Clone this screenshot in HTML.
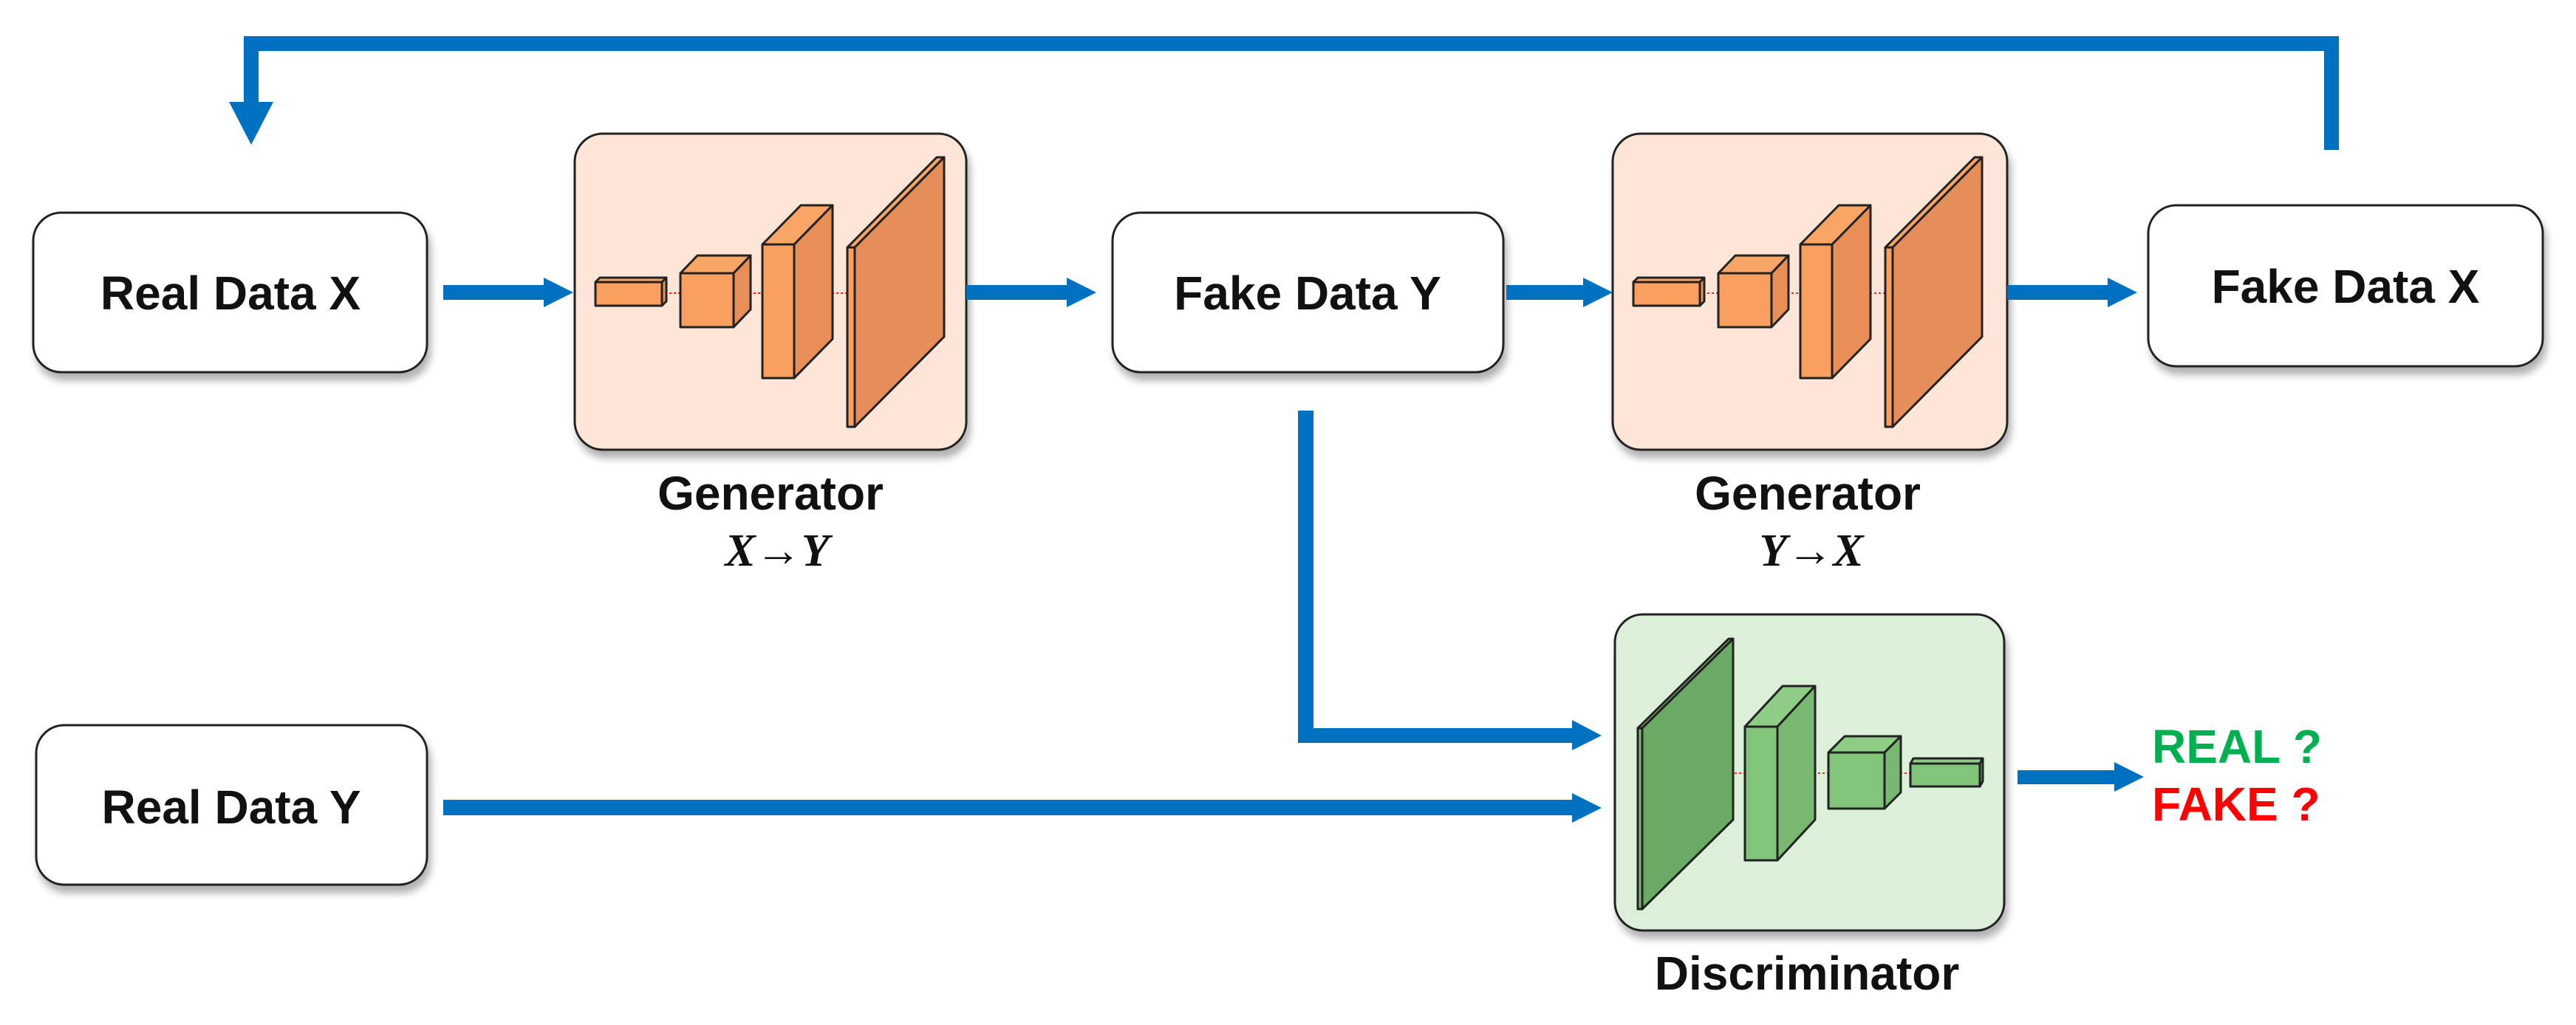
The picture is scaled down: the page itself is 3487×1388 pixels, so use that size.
<!DOCTYPE html>
<html><head><meta charset="utf-8"><style>
html,body{margin:0;padding:0;background:#fff;}
svg{display:block;}
text{font-family:"Liberation Sans",sans-serif;font-weight:bold;}
</style></head><body>
<svg width="3487" height="1388" viewBox="0 0 3487 1388" xmlns="http://www.w3.org/2000/svg">
<defs>
<filter id="sh" x="-10%" y="-10%" width="130%" height="130%">
<feDropShadow dx="4" dy="10" stdDeviation="5" flood-color="#000" flood-opacity="0.3"/>
</filter>
</defs>

<path d="M3156 203 V59 H340 V140" fill="none" stroke="#0070c0" stroke-width="20"/>
<polygon points="310,138 370,138 340,196" fill="#0070c0"/>

<g fill="#fff" stroke="#222" stroke-width="3" filter="url(#sh)">
<rect x="45" y="288" width="533" height="216" rx="38"/>
<rect x="1506" y="288" width="529" height="216" rx="38"/>
<rect x="2908" y="278" width="534" height="218" rx="38"/>
<rect x="49" y="982" width="529" height="216" rx="38"/>
<rect x="778" y="181" width="530" height="428" rx="38" fill="#fde6d8"/>
<rect x="2183" y="181" width="534" height="428" rx="38" fill="#fde6d8"/>
<rect x="2186" y="832" width="527" height="428" rx="38" fill="#dcefd8"/>
</g>

<g font-size="64" text-anchor="middle" fill="#111">
<text x="312" y="419">Real Data X</text>
<text x="1770" y="419">Fake Data Y</text>
<text x="3175" y="410">Fake Data X</text>
<text x="313" y="1115">Real Data Y</text>
<text x="1043" y="690">Generator</text>
<text x="2447" y="690">Generator</text>
<text x="2446" y="1340">Discriminator</text>
</g>
<g font-style="italic" font-weight="bold" font-size="62" text-anchor="middle" fill="#111">
<text x="1052" y="766" style="font-family:'Liberation Serif',serif">X→Y</text>
<text x="2452" y="766" style="font-family:'Liberation Serif',serif">Y→X</text>
</g>
<text x="2913" y="1033" font-size="64" fill="#00b050">REAL ?</text>
<text x="2913" y="1111" font-size="64" fill="#ff0000">FAKE ?</text>

<g fill="#0070c0">
<rect x="600" y="386" width="140" height="20"/><polygon points="736,376 776,396 736,416"/>
<rect x="1308" y="386" width="140" height="20"/><polygon points="1444,376 1484,396 1444,416"/>
<rect x="2039" y="386" width="106" height="20"/><polygon points="2143,376 2183,396 2143,416"/>
<rect x="2717" y="386" width="140" height="20"/><polygon points="2853,376 2893,396 2853,416"/>
<rect x="2731" y="1043" width="135" height="19"/><polygon points="2862,1032 2902,1052 2862,1072"/>
<rect x="600" y="1083" width="1530" height="21"/><polygon points="2128,1074 2168,1094 2128,1114"/>
<rect x="1757" y="556" width="21" height="450"/>
<rect x="1757" y="986" width="375" height="20"/><polygon points="2128,975 2168,996 2128,1016"/>
</g>

<g id="gen" stroke="#222" stroke-width="3" stroke-linejoin="round">
<g stroke="#ff2020" stroke-width="2" stroke-dasharray="3,3"><line x1="900" y1="397" x2="921" y2="397"/><line x1="1008" y1="397" x2="1032" y2="397"/><line x1="1090" y1="397" x2="1147" y2="397"/></g>
<polygon points="806,382 812,376 902,376 896,382" fill="#f9a566"/>
<polygon points="896,382 902,376 902,408 896,414" fill="#e88f58"/>
<rect x="806" y="382" width="90" height="32" fill="#f9a060"/>
<polygon points="921,370 944,346 1016,346 993,370" fill="#f9a566"/>
<polygon points="993,370 1016,346 1016,419 993,443" fill="#e88f58"/>
<rect x="921" y="370" width="72" height="73" fill="#f9a060"/>
<polygon points="1032,331 1084,278 1127,278 1075,331" fill="#f9a566"/>
<polygon points="1075,331 1127,278 1127,459 1075,512" fill="#e88f58"/>
<rect x="1032" y="331" width="43" height="181" fill="#f9a060"/>
<polygon points="1147,335 1268,213 1278,213 1157,335" fill="#f9a566"/>
<polygon points="1157,335 1278,213 1278,456 1157,578" fill="#e58e5a"/>
<rect x="1147" y="335" width="10" height="243" fill="#f9a060"/>
</g>
<use href="#gen" transform="translate(1405,0)"/>

<g stroke="#222" stroke-width="3" stroke-linejoin="round">
<g stroke="#ff2020" stroke-width="2" stroke-dasharray="3,3"><line x1="2300" y1="1047" x2="2362" y2="1047"/><line x1="2425" y1="1047" x2="2475" y2="1047"/><line x1="2560" y1="1047" x2="2586" y2="1047"/></g>
<polygon points="2217,986 2340,865 2346,865 2223,986" fill="#7abb70"/>
<polygon points="2223,986 2346,865 2346,1110 2223,1231" fill="#6aaa64"/>
<rect x="2217" y="986" width="6" height="245" fill="#7abb70"/>
<polygon points="2362,984 2413,929 2457,929 2406,984" fill="#8fcc86"/>
<polygon points="2406,984 2457,929 2457,1110 2406,1165" fill="#78b870"/>
<rect x="2362" y="984" width="44" height="181" fill="#82c47a"/>
<polygon points="2475,1019 2497,997 2573,997 2551,1019" fill="#8fcc86"/>
<polygon points="2551,1019 2573,997 2573,1073 2551,1095" fill="#78b870"/>
<rect x="2475" y="1019" width="76" height="76" fill="#82c47a"/>
<polygon points="2586,1034 2590,1027 2684,1027 2680,1034" fill="#8fcc86"/>
<polygon points="2680,1034 2684,1027 2684,1058 2680,1065" fill="#78b870"/>
<rect x="2586" y="1034" width="94" height="31" fill="#82c47a"/>
</g>
</svg>
</body></html>
